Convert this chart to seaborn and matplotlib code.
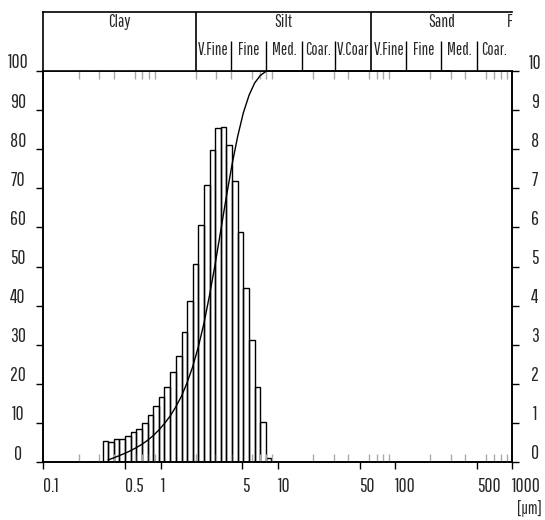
import numpy as np
import matplotlib
matplotlib.use("Agg")
import matplotlib.pyplot as plt
import matplotlib.transforms as mtrans
from matplotlib.ticker import FixedLocator, LogLocator, NullFormatter
import seaborn as sns

# particle size class edges (µm) and frequency (%) per class
bin_edges = [0.320, 0.357, 0.399, 0.446, 0.498, 0.556, 0.621, 0.694, 0.775, 0.866,
             0.967, 1.08, 1.21, 1.35, 1.51, 1.68, 1.88, 2.10, 2.35, 2.62,
             2.93, 3.27, 3.65, 4.08, 4.56, 5.09, 5.69, 6.35, 7.10, 7.93, 8.85]
freq_pct = [0.54, 0.52, 0.58, 0.58, 0.67, 0.76, 0.85, 1.01, 1.19, 1.42,
            1.65, 1.93, 2.31, 2.72, 3.32, 4.12, 5.06, 6.07, 7.09, 7.98,
            8.53, 8.58, 8.12, 7.19, 5.89, 4.44, 3.11, 1.93, 1.03, 0.11]
size_limit = 300.0  # upper end of the measured range

x_ticks = [0.1, 0.5, 1, 5, 10, 50, 100, 500, 1000]
x_labels = ["0.1", "0.5", "1", "5", "10", "50", "100", "500", "1000"]
cum_ticks = list(range(0, 101, 10))
freq_ticks = list(range(0, 11))

main_names = ["Clay", "Silt", "Sand"]
main_limits = [0.1, 2, 63, 1000]
sub_names = ["V.Fine", "Fine", "Med.", "Coar.", "V.Coar", "V.Fine", "Fine", "Med.", "Coar."]
sub_limits = [2, 4, 8, 16, 31, 63, 125, 250, 500, 1000]

BG = "#ffffe4"
FONT = ["Pathway Gothic One", "Roboto Condensed", "DejaVu Sans"]

sns.set_theme(style="white")
plt.rcParams["font.family"] = FONT
plt.rcParams["axes.edgecolor"] = "black"

W_PX, H_PX = 545, 520
fig = plt.figure(figsize=(W_PX / 100, H_PX / 100), dpi=100)
fig.patch.set_facecolor("white")

left, right = 43.4 / W_PX, 512 / W_PX
bottom, top = 1 - 462 / H_PX, 1 - 71 / H_PX
ax = fig.add_axes([left, bottom, right - left, top - bottom])
ax2 = ax.twinx()
ax.set_zorder(ax2.get_zorder() + 1)
ax.patch.set_visible(False)
ax2.set_facecolor(BG)

# histogram (right axis, %)
sns.histplot(x=bin_edges[:-1], weights=freq_pct, bins=bin_edges, ax=ax2,
             fill=False, color="black", linewidth=1.0)

# cumulative curve (left axis, %)
cum = 100 * np.cumsum(freq_pct) / np.sum(freq_pct)
cx = list(bin_edges[1:]) + [size_limit]
cy = list(cum) + [100.0]
sns.lineplot(x=cx, y=cy, ax=ax, color="black", linewidth=1.0, clip_on=False)

ax.set_xscale("log")
ax.set_xlim(0.1, 1000)
ax.set_ylim(0, 100)
ax2.set_ylim(0, 10)
for a in (ax, ax2):
    a.set_xlabel("")
    a.set_ylabel("")
    for s in a.spines.values():
        s.set_linewidth(1.2)
        s.set_color("black")

ax.xaxis.set_major_locator(FixedLocator(x_ticks))
ax.set_xticklabels(x_labels)
ax.xaxis.set_minor_locator(LogLocator(base=10, subs=range(2, 10)))
ax.xaxis.set_minor_formatter(NullFormatter())
ax.tick_params(axis="x", which="major", direction="out", length=5, width=1,
               color="black", bottom=True, top=False, labelsize=14, pad=6)
ax.tick_params(axis="x", which="minor", direction="in", length=6, width=1,
               color="#aaaaaa", bottom=True, top=True)
ax2.tick_params(axis="x", which="both", bottom=False, top=False,
                labelbottom=False)
for lbl in ax.get_xticklabels():
    lbl.set_ha("left")

ax.set_yticks(cum_ticks)
ax.tick_params(axis="y", direction="out", length=5, width=1, color="black",
               left=True, right=False, labelsize=14, pad=13.2)
ax2.set_yticks(freq_ticks)
ax2.tick_params(axis="y", direction="out", length=5, width=1, color="black",
                left=False, right=True, labelleft=False, labelright=True,
                labelsize=14, pad=11.5)

lift = mtrans.ScaledTranslation(0, 10 / 100, fig.dpi_scale_trans)
for t in ax.yaxis.get_major_ticks():
    t.label1.set_ha("center")
    t.label1.set_transform(t.label1.get_transform() + lift)
for t in ax2.yaxis.get_major_ticks():
    t.label2.set_ha("center")
    t.label2.set_transform(t.label2.get_transform() + lift)

# header with size classes
htop = 1 - 11.5 / H_PX
hx = fig.add_axes([left, top, right - left, htop - top])
hx.set_xscale("log")
hx.set_xlim(0.1, 1000)
hx.set_ylim(0, 1)
hx.set_xticks([])
hx.set_yticks([])
hx.minorticks_off()
hx.set_facecolor("white")
hx.spines["right"].set_visible(False)
hx.spines["bottom"].set_visible(False)
hx.spines["top"].set_linewidth(1.2)
hx.spines["left"].set_linewidth(1.2)
hx.vlines(main_limits[1:-1], 0, 1, color="black", linewidth=1.2)
hx.vlines([b for b in sub_limits[1:-1] if b not in main_limits], 0, 0.5,
          color="black", linewidth=1.0)
for name, lo, hi in zip(main_names, main_limits[:-1], main_limits[1:]):
    hx.text(np.sqrt(lo * hi), 0.82, name, ha="center", va="center", fontsize=12.5)
hx.text(1000, 0.82, "F", ha="right", va="center", fontsize=12.5)
for name, lo, hi in zip(sub_names, sub_limits[:-1], sub_limits[1:]):
    hx.text(np.sqrt(lo * hi), 0.36, name, ha="center", va="center", fontsize=12)

fig.text(542 / W_PX, 1 - 509 / H_PX, "[µm]", ha="right", va="center", fontsize=12)

fig.savefig("out.png", dpi=100)
